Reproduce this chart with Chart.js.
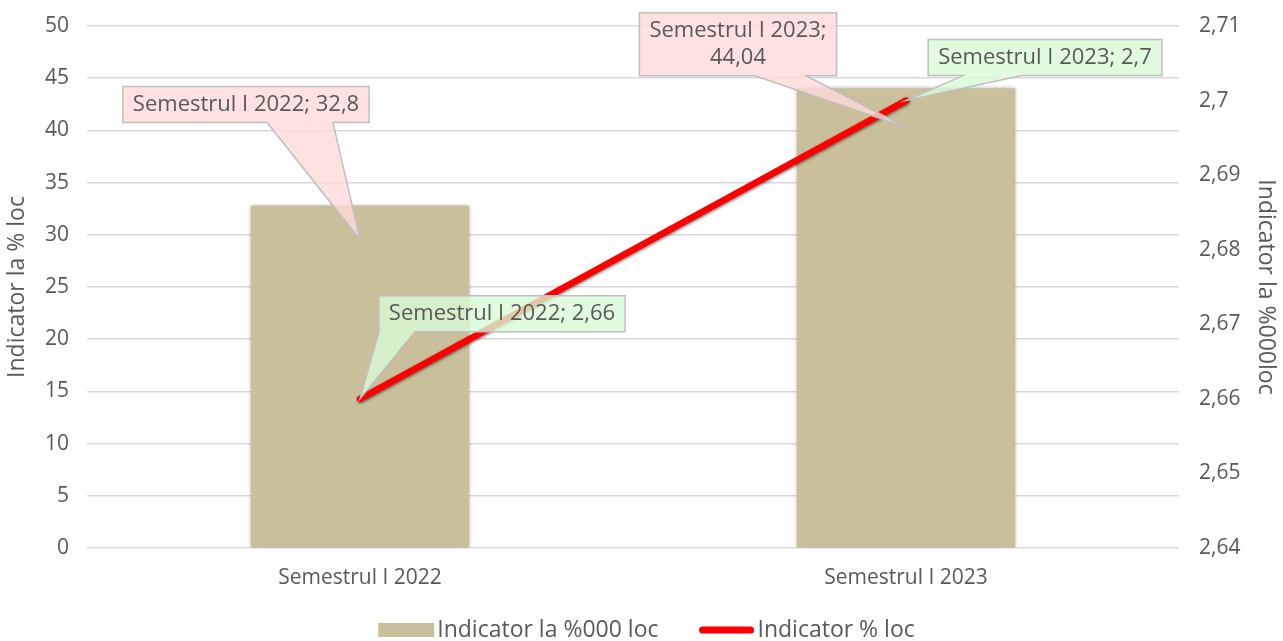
<!DOCTYPE html>
<html lang="ro">
<head>
    <meta charset="UTF-8">
    <title>Indicator semestrul I</title>
    <script src="https://cdn.jsdelivr.net/npm/chart.js"></script>
    <style>
        html, body { margin: 0; padding: 0; background: #fff; }
        .chart-container { width: 1283px; height: 641px; }
    </style>
</head>
<body>

    <div class="chart-container">
        <canvas id="indicatorChart"></canvas>
    </div>

    <script>
        // Data
        const categories = ['Semestrul I 2022', 'Semestrul I 2023'];
        const barValues = [32.8, 44.04];      // Indicator la %000 loc (left axis)
        const lineValues = [2.66, 2.7];       // Indicator % loc (right axis)
        const leftTicks = { min: 0, max: 50, step: 5 };
        const rightTicks = { min: 2.64, max: 2.71, step: 0.01 };

        const textColor = '#595959';
        const fontFamily = "'Open Sans', 'DejaVu Sans', sans-serif";

        // comma decimal like the original
        function fmt(v) {
            return Number(v.toFixed(2)).toString().replace('.', ',');
        }

        // Callout placement (offsets from the pointed spot)
        const callouts = [
            { ds: 0, i: 0, fill: 'rgba(255, 218, 218, 0.8)', tipDy: 34, dx: -114, dy: -135, base: [21, 87] },
            { ds: 0, i: 1, fill: 'rgba(255, 218, 218, 0.8)', tipDy: 39, dx: -168, dy: -83, base: [17, 68], wrap: true },
            { ds: 1, i: 0, fill: 'rgba(218, 250, 214, 0.8)', tipDy: 0, dx: 142, dy: -85, base: [-129, -87] },
            { ds: 1, i: 1, fill: 'rgba(218, 250, 214, 0.8)', tipDy: 0, dx: 139, dy: -43, base: [-82, -23] }
        ];

        const calloutPlugin = {
            id: 'callouts',
            afterDatasetsDraw(chart) {
                const ctx = chart.ctx;
                ctx.save();
                ctx.font = '22px ' + fontFamily;
                callouts.forEach(c => {
                    const el = chart.getDatasetMeta(c.ds).data[c.i];
                    const value = chart.data.datasets[c.ds].data[c.i];
                    const tipX = el.x, tipY = el.y + c.tipDy;
                    const lines = c.wrap
                        ? [categories[c.i] + ';', fmt(value)]
                        : [categories[c.i] + '; ' + fmt(value)];
                    const lh = 27;
                    const w = Math.max(...lines.map(l => ctx.measureText(l).width)) + 20;
                    const h = lines.length * lh + 9;
                    const cx = tipX + c.dx, cy = tipY + c.dy;
                    const l = cx - w / 2, r = cx + w / 2, t = cy - h / 2, b = cy + h / 2;
                    const b1 = Math.max(l, cx + c.base[0]), b2 = Math.min(r, cx + c.base[1]);

                    ctx.beginPath();
                    ctx.moveTo(l, t);
                    ctx.lineTo(r, t);
                    ctx.lineTo(r, b);
                    ctx.lineTo(b2, b);
                    ctx.lineTo(tipX, tipY);
                    ctx.lineTo(b1, b);
                    ctx.lineTo(l, b);
                    ctx.closePath();
                    ctx.fillStyle = c.fill;
                    ctx.fill();
                    ctx.strokeStyle = '#bfbfbf';
                    ctx.lineWidth = 1.5;
                    ctx.stroke();

                    ctx.fillStyle = textColor;
                    ctx.textAlign = 'center';
                    ctx.textBaseline = 'middle';
                    lines.forEach((line, k) => {
                        ctx.fillText(line, cx, t + 4.5 + lh / 2 + k * lh);
                    });
                });
                ctx.restore();
            }
        };

        // legend drawn by hand: swatch right against the text, wide gap between items
        const legendPlugin = {
            id: 'bottomLegend',
            afterDraw(chart) {
                const ctx = chart.ctx;
                const sets = chart.data.datasets;
                const swW = 56, gap = 3, itemGap = 40, y = 630;
                ctx.save();
                ctx.font = '23px ' + fontFamily;
                const widths = sets.map(ds => swW + gap + ctx.measureText(ds.label).width);
                const total = widths.reduce((a, b) => a + b, 0) + itemGap * (sets.length - 1);
                let x = chart.width / 2 + 5 - total / 2;
                sets.forEach((ds, i) => {
                    if (ds.type === 'line') {
                        ctx.beginPath();
                        ctx.moveTo(x + 4, y);
                        ctx.lineTo(x + swW - 4, y);
                        ctx.strokeStyle = ds.borderColor;
                        ctx.lineWidth = 7;
                        ctx.lineCap = 'round';
                        ctx.stroke();
                    } else {
                        ctx.fillStyle = ds.backgroundColor;
                        ctx.fillRect(x, y - 7, swW, 14);
                    }
                    ctx.fillStyle = textColor;
                    ctx.textAlign = 'left';
                    ctx.textBaseline = 'middle';
                    ctx.fillText(ds.label, x + swW + gap, y);
                    x += widths[i] + itemGap;
                });
                ctx.restore();
            }
        };

        // soft shadow under bars and line
        const shadowPlugin = {
            id: 'shadows',
            beforeDatasetDraw(chart, args) {
                const ctx = chart.ctx;
                ctx.save();
                if (args.meta.type === 'line') {
                    ctx.shadowColor = 'rgba(0, 0, 0, 0.55)';
                    ctx.shadowBlur = 3;
                    ctx.shadowOffsetX = 1;
                    ctx.shadowOffsetY = 1;
                } else {
                    ctx.shadowColor = 'rgba(0, 0, 0, 0.3)';
                    ctx.shadowBlur = 4;
                }
            },
            afterDatasetDraw(chart) {
                chart.ctx.restore();
            }
        };

        // fixed axis widths, no automatic label overhang padding
        function fixWidth(w) {
            return function (scale) {
                scale.width = w;
                scale.paddingTop = 0;
                scale.paddingBottom = 0;
            };
        }

        const ctx = document.getElementById('indicatorChart').getContext('2d');
        const indicatorChart = new Chart(ctx, {
            data: {
                labels: categories,
                datasets: [{
                    type: 'bar',
                    label: 'Indicator la %000 loc',
                    data: barValues,
                    backgroundColor: '#c9c09b',
                    barPercentage: 0.4,
                    categoryPercentage: 1,
                    yAxisID: 'y',
                    order: 1
                }, {
                    type: 'line',
                    label: 'Indicator % loc',
                    data: lineValues,
                    borderColor: '#ff0000',
                    borderWidth: 6.5,
                    borderCapStyle: 'round',
                    pointRadius: 0,
                    fill: false,
                    yAxisID: 'y1',
                    order: 0
                }]
            },
            options: {
                responsive: true,
                maintainAspectRatio: false,
                animation: false,
                layout: {
                    padding: { top: 26, right: 0, bottom: 33, left: 0 }
                },
                plugins: {
                    tooltip: { enabled: false },
                    legend: { display: false }
                },
                scales: {
                    x: {
                        grid: { display: false, drawTicks: false },
                        border: { display: false },
                        ticks: {
                            color: textColor,
                            font: { family: fontFamily, size: 21 },
                            padding: 17
                        },
                        afterFit(scale) {
                            scale.height = 60;
                            scale.paddingLeft = 0;
                            scale.paddingRight = 0;
                        }
                    },
                    y: {
                        position: 'left',
                        min: leftTicks.min,
                        max: leftTicks.max,
                        ticks: {
                            stepSize: leftTicks.step,
                            color: textColor,
                            font: { family: fontFamily, size: 21 },
                            padding: 18,
                            callback: v => fmt(v)
                        },
                        grid: { color: '#d9d9d9', lineWidth: 1.5, drawTicks: false },
                        border: { display: false },
                        title: {
                            display: true,
                            text: 'Indicator la % loc',
                            color: textColor,
                            font: { family: fontFamily, size: 23 },
                            padding: 4
                        },
                        afterFit: fixWidth(87)
                    },
                    y1: {
                        position: 'right',
                        min: rightTicks.min,
                        max: rightTicks.max,
                        ticks: {
                            stepSize: rightTicks.step,
                            color: textColor,
                            font: { family: fontFamily, size: 21 },
                            padding: 20,
                            callback: v => fmt(v)
                        },
                        grid: { display: false, drawTicks: false },
                        border: { display: false },
                        title: {
                            display: true,
                            text: 'Indicator la %000loc',
                            color: textColor,
                            font: { family: fontFamily, size: 23 },
                            padding: 4
                        },
                        afterFit: fixWidth(104)
                    }
                }
            },
            plugins: [shadowPlugin, calloutPlugin, legendPlugin]
        });
    </script>

</body>
</html>
